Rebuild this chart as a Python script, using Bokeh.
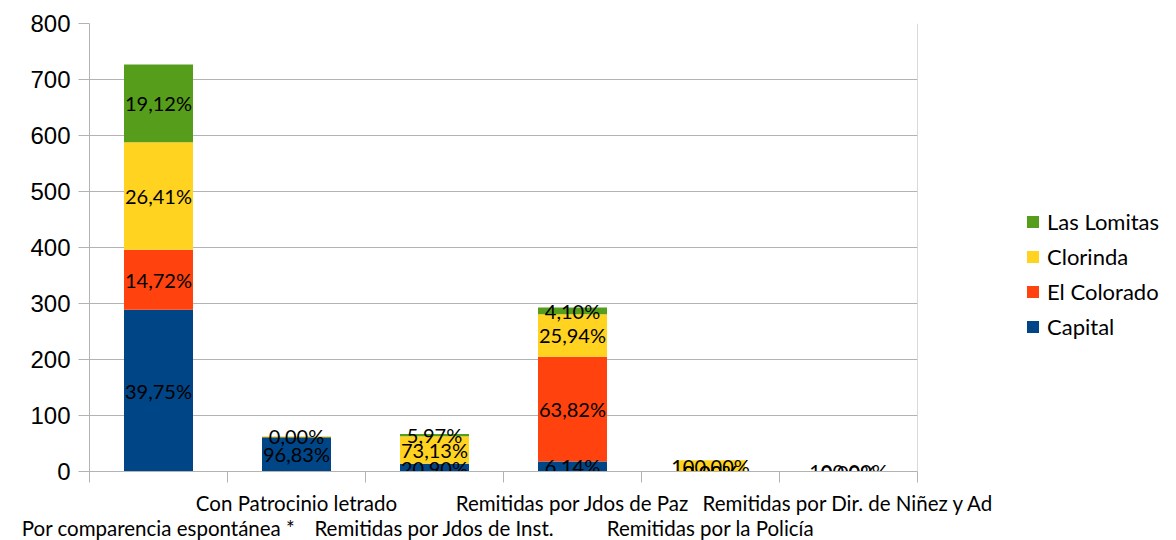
from bokeh.plotting import figure
from bokeh.models import (Range1d, FixedTicker, LinearAxis, Legend, LegendItem,
                          Span, ColumnDataSource)
from bokeh.core.properties import value
from bokeh.embed import file_html
from bokeh.resources import INLINE

categories = ["Por comparencia espontánea *", "Con Patrocinio letrado",
              "Remitidas por Jdos de Inst.", "Remitidas por Jdos de Paz",
              "Remitidas por la Policía", "Remitidas por Dir. de Niñez y Ad"]
series = ["Capital", "El Colorado", "Clorinda", "Las Lomitas"]

capital = [289, 61, 14, 18, 0, 0]
el_colorado = [107, 0, 0, 187, 0, 0]
clorinda = [192, 2, 49, 76, 20, 1]
las_lomitas = [139, 0, 4, 12, 0, 0]

capital_lbl = ["39,75%", "96,83%", "20,90%", "6,14%", "0,00%", "0,00%"]
el_colorado_lbl = ["14,72%", "", "", "63,82%", "0,00%", ""]
clorinda_lbl = ["26,41%", "", "73,13%", "25,94%", "100,00%", "100,00%"]
las_lomitas_lbl = ["19,12%", "0,00%", "5,97%", "4,10%", "", ""]

y_ticks = [0, 100, 200, 300, 400, 500, 600, 700, 800]

colors = ["#004586", "#ff420e", "#ffd320", "#579d1c"]
grid_col = "#b3b3b3"

values = [capital, el_colorado, clorinda, las_lomitas]
labels = [capital_lbl, el_colorado_lbl, clorinda_lbl, las_lomitas_lbl]
xs = list(range(1, len(categories) + 1))

src = ColumnDataSource(dict(x=xs, **{s: v for s, v in zip(series, values)}))

p = figure(frame_width=828, frame_height=448,
           x_range=Range1d(0.5, len(categories) + 0.5),
           y_range=Range1d(y_ticks[0], y_ticks[-1]),
           output_backend="svg", toolbar_location=None,
           min_border_left=89, min_border_top=23, min_border_right=243,
           min_border_bottom=0)
p.outline_line_color = None
p.background_fill_color = "white"

renderers = p.vbar_stack(series, x="x", width=0.5, color=colors,
                         line_color=None, source=src)

# data labels
lx, ly, lt = [], [], []
bottoms = [0] * len(xs)
for vals, lbls in zip(values, labels):
    for i, (v, t) in enumerate(zip(vals, lbls)):
        if t:
            lx.append(xs[i])
            ly.append(bottoms[i] + v / 2)
            lt.append(t)
        bottoms[i] += v
p.text(x=lx, y=ly, text=lt, text_align="center", text_baseline="middle",
       text_font=value("Lato"), text_font_size="20px", text_color="black")

# grid
p.xgrid.visible = False
p.ygrid.ticker = FixedTicker(ticks=y_ticks)
p.ygrid.grid_line_color = grid_col
p.add_layout(Span(location=len(categories) + 0.5, dimension="height",
                  line_color=grid_col, line_width=1))

# y axis
ya = p.yaxis[0]
ya.ticker = FixedTicker(ticks=y_ticks)
ya.axis_line_color = grid_col
ya.major_tick_line_color = grid_col
ya.major_tick_out = 11
ya.major_tick_in = 0
ya.minor_tick_line_color = None
ya.major_label_text_font = "Liberation Sans"
ya.major_label_text_font_size = "24px"
ya.major_label_text_color = "black"
ya.major_label_standoff = 8

# x axis (upper row of labels)
xa = p.xaxis[0]
up = [i for i in xs if i % 2 == 0]
low = [i for i in xs if i % 2 == 1]
xa.ticker = FixedTicker(ticks=up, minor_ticks=[i + 0.5 for i in range(len(xs) + 1)])
xa.major_label_overrides = {i: categories[i - 1] for i in up}
xa.axis_line_color = grid_col
xa.major_tick_line_color = None
xa.major_tick_out = 0
xa.major_tick_in = 0
xa.minor_tick_line_color = grid_col
xa.minor_tick_out = 11
xa.minor_tick_in = 0
xa.major_label_text_font = "Lato"
xa.major_label_text_font_size = "20.5px"
xa.major_label_text_color = "black"
xa.major_label_standoff = 8

# x axis (lower row of labels)
xb = LinearAxis(ticker=FixedTicker(ticks=low),
                major_label_overrides={i: categories[i - 1] for i in low})
xb.axis_line_color = None
xb.major_tick_line_color = None
xb.minor_tick_line_color = None
xb.major_tick_out = 0
xb.major_tick_in = 0
xb.major_label_text_font = "Lato"
xb.major_label_text_font_size = "20.5px"
xb.major_label_text_color = "black"
xb.major_label_standoff = -2
p.add_layout(xb, "below")

# legend
items = [LegendItem(label=s, renderers=[r]) for s, r in zip(series, renderers)][::-1]
legend = Legend(items=items, location=(108, 131), orientation="vertical",
                border_line_color=None, background_fill_alpha=0,
                padding=0, margin=0, spacing=8, glyph_width=15, glyph_height=15,
                label_standoff=7, label_height=24,
                label_text_font="Lato", label_text_font_size="22px",
                label_text_color="black")
p.add_layout(legend, "right")

open("out.html", "w").write(file_html(p, INLINE))
